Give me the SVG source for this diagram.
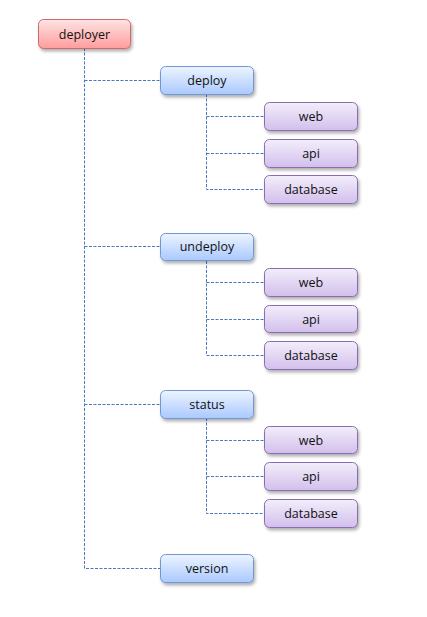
<svg xmlns="http://www.w3.org/2000/svg" width="427" height="617" viewBox="0 0 427 617">
<defs>
<linearGradient id="gr" x1="0" y1="0" x2="0" y2="1"><stop offset="0" stop-color="#ffe4e4"/><stop offset="1" stop-color="#ff9c9c"/></linearGradient>
<linearGradient id="gb" x1="0" y1="0" x2="0" y2="1"><stop offset="0" stop-color="#eef4ff"/><stop offset="1" stop-color="#a9c9ff"/></linearGradient>
<linearGradient id="gp" x1="0" y1="0" x2="0" y2="1"><stop offset="0" stop-color="#f3eefa"/><stop offset="1" stop-color="#d2bfec"/></linearGradient>
<filter id="sh" x="-20%" y="-30%" width="150%" height="180%"><feDropShadow dx="1.5" dy="2.5" stdDeviation="1.5" flood-color="#000" flood-opacity="0.3"/></filter>
</defs>
<style>
rect{filter:url(#sh);stroke-width:1}
.r rect{fill:url(#gr);stroke:#d06a6a}
.b rect{fill:url(#gb);stroke:#6f98d6}
.p rect{fill:url(#gp);stroke:#8a6cb0}
text{font-family:"Open Sans","Liberation Sans",sans-serif;font-size:12.5px;fill:#111;text-anchor:middle;dominant-baseline:central}
#connectors path{fill:none;stroke:#4a78c0;stroke-width:1;stroke-dasharray:3,1.5}
</style>
<g id="connectors">
<path d="M84.5 48V568.5H160M84.5 80.5H160M84.5 246.5H160M84.5 404.5H160"/>
<path d="M206.5 94V189.5H264M206.5 116.5H264M206.5 153.5H264"/>
<path d="M206.5 261V355.5H264M206.5 282.5H264M206.5 319.5H264"/>
<path d="M206.5 418V513.5H264M206.5 440.5H264M206.5 476.5H264"/>
</g>
<g id="deployer" class="r"><rect x="38.5" y="19.5" width="92" height="29" rx="5"/><text x="84.5" y="34">deployer</text></g>
<g id="deploy" class="b"><rect x="160.5" y="66.5" width="93" height="28" rx="5"/><text x="207" y="80.5">deploy</text></g>
<g id="deploy-web" class="p"><rect x="264.5" y="102.5" width="93" height="28" rx="5"/><text x="311" y="116.5">web</text></g>
<g id="deploy-api" class="p"><rect x="264.5" y="139.5" width="93" height="28" rx="5"/><text x="311" y="153.5">api</text></g>
<g id="deploy-database" class="p"><rect x="264.5" y="175.5" width="93" height="28" rx="5"/><text x="311" y="189.5">database</text></g>
<g id="undeploy" class="b"><rect x="160.5" y="233.5" width="93" height="27" rx="5"/><text x="207" y="246.5">undeploy</text></g>
<g id="undeploy-web" class="p"><rect x="264.5" y="268.5" width="93" height="28" rx="5"/><text x="311" y="282.5">web</text></g>
<g id="undeploy-api" class="p"><rect x="264.5" y="305.5" width="93" height="27" rx="5"/><text x="311" y="319">api</text></g>
<g id="undeploy-database" class="p"><rect x="264.5" y="341.5" width="93" height="28" rx="5"/><text x="311" y="355.5">database</text></g>
<g id="status" class="b"><rect x="160.5" y="390.5" width="93" height="28" rx="5"/><text x="207" y="404">status</text></g>
<g id="status-web" class="p"><rect x="264.5" y="426.5" width="93" height="27" rx="5"/><text x="311" y="440">web</text></g>
<g id="status-api" class="p"><rect x="264.5" y="462.5" width="93" height="28" rx="5"/><text x="311" y="476.5">api</text></g>
<g id="status-database" class="p"><rect x="264.5" y="499.5" width="93" height="28" rx="5"/><text x="311" y="513">database</text></g>
<g id="version" class="b"><rect x="160.5" y="554.5" width="93" height="28" rx="5"/><text x="207" y="568.5">version</text></g>
</svg>
